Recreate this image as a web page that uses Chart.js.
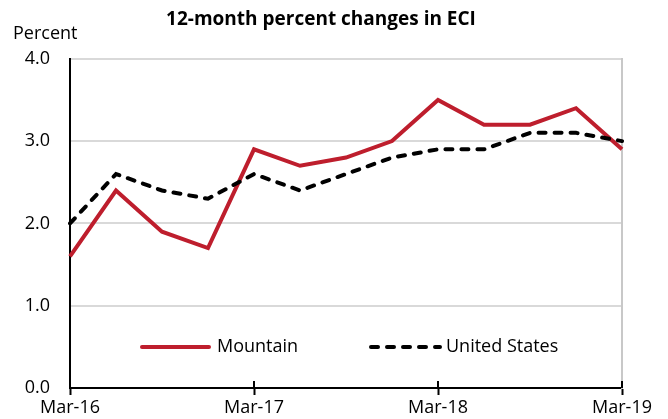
<!DOCTYPE html>
<html><head><meta charset="utf-8">
<script src="https://cdn.jsdelivr.net/npm/chart.js@4.4.1/dist/chart.umd.min.js"></script>
<style>html,body{margin:0;padding:0;background:#fff}#wrap{width:668px;height:419px;position:relative}</style>
</head><body><div id="wrap"><canvas id="c" width="668" height="419"></canvas></div>
<script>
const categories = ["Mar-16","Jun-16","Sep-16","Dec-16","Mar-17","Jun-17","Sep-17","Dec-17","Mar-18","Jun-18","Sep-18","Dec-18","Mar-19"];
const mountain = [1.6,2.4,1.9,1.7,2.9,2.7,2.8,3.0,3.5,3.2,3.2,3.4,2.9];
const unitedStates = [2.0,2.6,2.4,2.3,2.6,2.4,2.6,2.8,2.9,2.9,3.1,3.1,3.0];
const yTicks = [0,1,2,3,4];

const FONT = "'Open Sans'";
const RED = "#BE1E2D";

const overlay = {
  id: 'overlay',
  afterDraw(chart) {
    const ctx = chart.ctx, x = chart.scales.x, a = chart.chartArea;
    ctx.save();
    // inner half of the crossing x ticks
    ctx.strokeStyle = '#000'; ctx.lineWidth = 2;
    categories.forEach((c, i) => {
      if (i % 4 === 0) {
        const px = Math.round(x.getPixelForValue(i));
        ctx.beginPath(); ctx.moveTo(px, a.bottom - 7); ctx.lineTo(px, a.bottom); ctx.stroke();
      }
    });
    ctx.fillStyle = '#000';
    ctx.font = `18px ${FONT}`;
    ctx.textBaseline = 'middle';
    ctx.textAlign = 'left';
    ctx.fillText('Percent', 13, 34);
    // legend
    const ly = 347;
    ctx.lineWidth = 4;
    ctx.lineCap = 'round';
    ctx.strokeStyle = RED;
    ctx.beginPath(); ctx.moveTo(142, ly); ctx.lineTo(209, ly); ctx.stroke();
    ctx.fillText(chart.data.datasets[0].label, 217, ly);
    ctx.strokeStyle = '#000';
    ctx.setLineDash([7,9]);
    ctx.beginPath(); ctx.moveTo(371, ly); ctx.lineTo(440, ly); ctx.stroke();
    ctx.setLineDash([]);
    ctx.fillText(chart.data.datasets[1].label, 446, ly);
    ctx.restore();
  }
};

new Chart(document.getElementById('c'), {
  type: 'line',
  data: {
    labels: categories,
    datasets: [
      {label: 'Mountain', data: mountain, borderColor: RED, backgroundColor: RED, borderWidth: 4, pointRadius: 0, tension: 0, order: 2, borderJoinStyle: 'miter'},
      {label: 'United States', data: unitedStates, borderColor: '#000', backgroundColor: '#000', borderWidth: 4, borderDash: [7,9], borderCapStyle: 'round', pointRadius: 0, tension: 0, order: 1}
    ]
  },
  options: {
    responsive: false,
    animation: false,
    layout: {padding: {left: 20, right: 46, top: 0, bottom: 0}},
    plugins: {
      legend: {display: false},
      tooltip: {enabled: false},
      title: {display: true, text: '12-month percent changes in ECI', color: '#000',
        font: {family: FONT, size: 19, weight: 'bold'}, padding: {top: 8, bottom: 28}}
    },
    scales: {
      x: {
        type: 'category',
        offset: false,
        afterFit: s => { s.height = 31; },
        grid: {
          drawOnChartArea: false, drawTicks: true, tickLength: 7, tickWidth: 2,
          tickColor: c => (c.index % 4 === 0 ? '#000' : 'rgba(0,0,0,0)')
        },
        border: {color: '#000', width: 2},
        ticks: {autoSkip: false, maxRotation: 0, padding: 2, color: '#000',
          font: {family: FONT, size: 18},
          callback: (v, i) => (i % 4 === 0 ? categories[i] : '')}
      },
      y: {
        min: 0, max: 4,
        afterFit: s => { s.width = 50; },
        afterBuildTicks: s => { s.ticks = yTicks.map(v => ({value: v})); },
        grid: {color: '#d9d9d9', lineWidth: 2, drawTicks: false},
        border: {color: '#000', width: 2},
        ticks: {padding: 20, color: '#000', font: {family: FONT, size: 18},
          callback: v => v.toFixed(1)}
      },
      y2: {
        position: 'right', min: 0, max: 4,
        afterFit: s => { s.width = 0; },
        grid: {drawOnChartArea: false, drawTicks: false},
        border: {color: '#c8c8c8', width: 2},
        ticks: {display: false}
      }
    }
  },
  plugins: [overlay]
});
</script></body></html>
